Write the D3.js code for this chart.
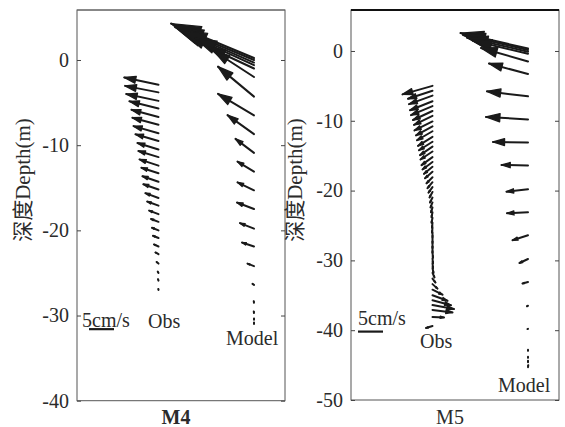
<!DOCTYPE html>
<html>
<head>
<meta charset="utf-8">
<script src="https://cdn.jsdelivr.net/npm/d3@7/dist/d3.min.js"></script>
<style>
  body { margin: 0; background: #fff; }
  text { font-family: "Liberation Serif", "Times New Roman", "Noto Sans CJK SC", serif; fill: #2b2b2b; }
</style>
</head>
<body>
<svg id="chart" width="565" height="427"></svg>
<script>
// ---- Current profiles: depth (m), eastward u (cm/s), northward v (cm/s) ----

// Station M4, observed
const m4ObsDepth = [-2.9, -3.8, -4.8, -5.7, -6.7, -7.6, -8.6, -9.5, -10.5, -11.4, -12.4, -13.3, -14.3,
  -15.2, -16.2, -17.1, -18.1, -19.0, -20.0, -20.9, -21.9, -22.8, -23.9, -25.0, -25.9, -27.0];
const m4ObsU = [-6.85, -6.68, -6.46, -5.82, -5.41, -5.22, -5.00, -4.61, -4.21, -4.02, -3.80, -3.42, -3.21,
  -3.03, -2.63, -2.26, -1.87, -1.49, -1.30, -1.11, -0.91, -0.61, -0.38, -0.15, -0.10, -0.03];
const m4ObsV = [1.46, 1.30, 1.37, 1.45, 1.45, 1.40, 1.43, 1.32, 1.29, 1.23, 1.24, 1.11, 1.11,
  1.04, 0.96, 0.82, 0.72, 0.57, 0.52, 0.45, 0.42, 0.35, 0.32, 0.26, 0.28, 0.20];

// Station M4, model
const m4ModDepth = [0.23, 0.0, -0.3, -0.6, -1.0, -2.0, -4.3, -6.5, -8.7, -10.9, -13.1, -15.3, -17.5,
  -19.8, -21.9, -24.2, -26.4, -28.5, -29.7, -30.5, -31.0];
const m4ModU = [-16.6, -15.8, -14.8, -11.8, -9.0, -8.0, -7.2, -7.2, -5.3, -3.7, -3.3, -3.3, -3.4,
  -2.8, -2.4, -1.3, -0.3, -0.05, -0.05, 0, 0];
const m4ModV = [6.9, 6.6, 6.5, 5.4, 4.2, 5.2, 6.0, 4.3, 3.8, 2.8, 2.0, 1.6, 1.3,
  1.1, 0.8, 0.5, 0.2, 0.3, 0.3, 0.25, 0.3];

// Station M5, observed
const m5ObsDepth = [-5.0, -5.7, -6.4, -7.2, -7.9, -8.6, -9.3, -10.1, -10.8, -11.5, -12.3, -13.0, -13.7,
  -14.4, -15.2, -15.9, -16.6, -17.3, -18.1, -18.8, -19.5, -20.2, -21.0, -21.7, -22.4, -23.1, -23.9,
  -24.6, -25.3, -26.0, -26.8, -27.5, -28.2, -28.9, -29.7, -30.4, -31.1, -31.8, -32.6,
  -33.4, -34.2, -35.0, -35.7, -36.4, -37.1, -38.1, -39.4];
const m5ObsU = [-6.0, -4.9, -4.7, -4.5, -4.3, -3.9, -3.7, -3.6, -3.3, -3.1, -2.9, -2.7, -2.5,
  -2.4, -2.2, -2.0, -1.7, -1.5, -1.2, -1.0, -0.8, -0.6, -0.5, -0.4, -0.3, -0.2, -0.2,
  -0.1, -0.1, 0, 0, 0, 0, 0.1, 0.1, 0.1, 0.2, 0.4, 0.6,
  1.0, 2.0, 3.0, 3.7, 4.3, 4.0, 2.3, -1.3];
const m5ObsV = [-1.7, -1.6, -1.7, -1.8, -1.8, -1.8, -1.8, -1.8, -1.8, -1.8, -1.8, -1.7, -1.7,
  -1.6, -1.6, -1.5, -1.4, -1.3, -1.2, -1.2, -1.1, -1.1, -1.0, -1.0, -1.0, -1.0, -1.0,
  -1.0, -1.0, -1.0, -1.0, -1.0, -1.0, -1.0, -1.0, -1.0, -1.0, -0.9, -0.8,
  -0.9, -1.0, -1.1, -1.0, -0.8, -0.5, -0.1, -0.4];

// Station M5, model
const m5ModDepth = [0.35, 0.15, -0.1, -0.4, -1.5, -3.3, -6.5, -9.8, -13.1, -16.4, -19.8, -23.1, -26.4,
  -29.8, -33.1, -36.5, -39.8, -42.8, -43.8, -44.6, -45.3];
const m5ModU = [-13.5, -13.0, -12.2, -11.0, -9.4, -7.8, -8.2, -8.4, -7.0, -5.3, -4.3, -4.2, -3.1,
  -1.7, -1.1, -0.2, -0.1, 0, 0, 0, 0.05];
const m5ModV = [3.1, 3.0, 2.8, 2.6, 2.7, 2.1, 1.0, 0.5, 0.1, 0.1, -0.5, -0.2, -1.0,
  -0.8, -0.3, -0.1, -0.05, -0.2, -0.2, 0.3, 0.4];

// Axis ticks
const m4Ticks = [0, -10, -20, -30, -40];
const m5Ticks = [0, -10, -20, -30, -40, -50];

// Reference vector for the scale bar (cm/s)
const refSpeed = 5;

// ---- Layout ----
const svg = d3.select("#chart");
const ink = "#1a1a1a";
const depthTop = 5.87;
const obsColumn = 16.3;     // horizontal anchor of the observed profile (cm/s units)
const modelColumn = 35.4;   // horizontal anchor of the model profile (cm/s units)

const panels = [
  {
    name: "M4", bold: true, x0: 77, x1: 285, y0: 10, y1: 400.7, depthMin: -40, ticks: m4Ticks,
    obs: [m4ObsDepth, m4ObsU, m4ObsV], model: [m4ModDepth, m4ModU, m4ModV],
    bar: { u0: 2.4, depth: -31.6 },
    scaleText: [82, 327], obsText: [148, 328], modelText: [226, 345],
    titleX: 23, topStroke: "#666", topWidth: 1
  },
  {
    name: "M5", bold: false, x0: 351, x1: 559, y0: 10, y1: 400, depthMin: -50, ticks: m5Ticks,
    obs: [m5ObsDepth, m5ObsU, m5ObsV], model: [m5ModDepth, m5ModU, m5ModV],
    bar: { u0: 1.4, depth: -40.2 },
    scaleText: [358, 325], obsText: [420, 348], modelText: [498, 392],
    titleX: 295, topStroke: "#111", topWidth: 2
  }
];

function quiver(g, x, y, column, series) {
  const [depth, u, v] = series;
  const k = x(1) - x(0);          // pixels per cm/s, same horizontally and vertically
  const alpha = 0.33, beta = 0.3;
  depth.forEach((d, i) => {
    const tx = x(column), ty = y(d);
    const U = u[i] * k, V = -v[i] * k;
    const hx = tx + U, hy = ty + V;
    g.append("line")
      .attr("x1", tx).attr("y1", ty).attr("x2", hx).attr("y2", hy)
      .attr("stroke", ink).attr("stroke-width", 2).attr("stroke-linecap", "round");
    const bx = hx - alpha * U, by = hy - alpha * V;
    const px = -V * alpha * beta, py = U * alpha * beta;
    g.append("path")
      .attr("d", `M${bx + px},${by + py}L${hx},${hy}L${bx - px},${by - py}Z`)
      .attr("fill", ink).attr("stroke", ink).attr("stroke-width", 1.3)
      .attr("stroke-linejoin", "round");
  });
}

panels.forEach(p => {
  const width = p.x1 - p.x0;
  const x = d3.scaleLinear().domain([0, width / 5]).range([p.x0, p.x1]);
  const y = d3.scaleLinear().domain([p.depthMin, depthTop]).range([p.y1, p.y0]);

  const g = svg.append("g");

  // Frame
  g.append("rect")
    .attr("x", p.x0).attr("y", p.y0).attr("width", width).attr("height", p.y1 - p.y0)
    .attr("fill", "none").attr("stroke", "#555").attr("stroke-width", 1);
  g.append("line")
    .attr("x1", p.x0).attr("x2", p.x1).attr("y1", p.y0).attr("y2", p.y0)
    .attr("stroke", p.topStroke).attr("stroke-width", p.topWidth);

  // Left axis with inward ticks
  const left = g.append("g").attr("transform", `translate(${p.x0},0)`)
    .call(d3.axisLeft(y).tickValues(p.ticks).tickSize(-4).tickPadding(8)
      .tickFormat(d => String(d)));
  left.select(".domain").remove();
  left.selectAll(".tick line").attr("stroke", "#444");
  left.selectAll(".tick text").attr("font-size", 20).attr("fill", "#2b2b2b")
    .attr("font-family", "Liberation Serif, serif");

  // Right axis: ticks only
  const right = g.append("g").attr("transform", `translate(${p.x1},0)`)
    .call(d3.axisRight(y).tickValues(p.ticks).tickSize(-4).tickFormat(""));
  right.select(".domain").remove();
  right.selectAll(".tick line").attr("stroke", "#444");

  // Depth title
  g.append("text")
    .attr("transform", `translate(${p.titleX + 7},180) rotate(-90)`)
    .attr("text-anchor", "middle").attr("font-size", 21)
    .text("深度Depth(m)");

  // Station label
  g.append("text")
    .attr("x", (p.x0 + p.x1) / 2 - 5).attr("y", 424)
    .attr("text-anchor", "middle").attr("font-size", 20)
    .attr("font-weight", p.bold ? "bold" : "normal")
    .text(p.name);

  // Profiles
  quiver(g, x, y, obsColumn, p.obs);
  quiver(g, x, y, modelColumn, p.model);

  // Scale bar
  g.append("line")
    .attr("x1", x(p.bar.u0)).attr("x2", x(p.bar.u0 + refSpeed))
    .attr("y1", y(p.bar.depth)).attr("y2", y(p.bar.depth))
    .attr("stroke", ink).attr("stroke-width", 2.2);
  g.append("text").attr("x", p.scaleText[0]).attr("y", p.scaleText[1])
    .attr("font-size", 20).text(refSpeed + "cm/s");
  g.append("text").attr("x", p.obsText[0]).attr("y", p.obsText[1])
    .attr("font-size", 20).text("Obs");
  g.append("text").attr("x", p.modelText[0]).attr("y", p.modelText[1])
    .attr("font-size", 20).text("Model");
});
</script>
</body>
</html>
